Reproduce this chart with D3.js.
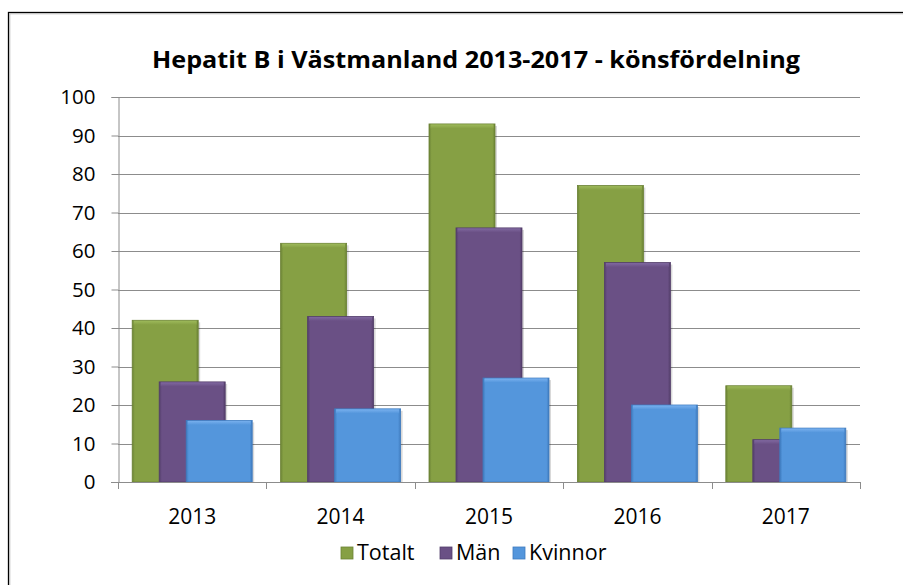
<!DOCTYPE html>
<html>
<head>
<meta charset="utf-8">
<script src="https://cdn.jsdelivr.net/npm/d3@7"></script>
<style>
  body { margin: 0; background: #fff; overflow: hidden; }
  svg { display: block; font-family: "Open Sans", "Liberation Sans", sans-serif; }
</style>
</head>
<body>
<svg id="chart" width="903" height="585"></svg>
<script>
// data
const years = ['2013', '2014', '2015', '2016', '2017'];
const seriesNames = ['Totalt', 'Män', 'Kvinnor'];
const totalt = [42, 62, 93, 77, 25];
const man = [26, 43, 66, 57, 11];
const kvinnor = [16, 19, 27, 20, 14];
const yTicks = [0, 10, 20, 30, 40, 50, 60, 70, 80, 90, 100];

const colors = {
  'Totalt': { fill: '#86A044', dark: '#6B8235', light: '#9DB95A' },
  'Män': { fill: '#6A5085', dark: '#533E6A', light: '#8068A0' },
  'Kvinnor': { fill: '#5496DC', dark: '#3F7BBE', light: '#78B0EE' }
};

const series = [totalt, man, kvinnor];
const fontSize = 20;

let svg = d3.select('#chart');
const margin = { left: 118, right: 43, top: 97, bottom: 103 };
const width = 903, height = 585;

// frame of the chart object (only top/left edges fall inside the picture)
svg.append('rect').attr('x', 8.5).attr('y', 12.5).attr('width', 1000).attr('height', 700)
  .attr('fill', 'none').attr('stroke', '#000').attr('stroke-width', 1.3);
svg.append('rect').attr('x', 9.8).attr('y', 13.8).attr('width', 1000).attr('height', 700)
  .attr('fill', 'none').attr('stroke', '#bbb').attr('stroke-width', 1);

let x = d3.scaleBand().domain(years).range([margin.left, width - margin.right]);
let y = d3.scaleLinear().domain([0, 100]).range([height - margin.bottom, margin.top]);

// gridlines
svg.append('g').selectAll('line').data(yTicks.filter(d => d > 0)).enter().append('line')
  .attr('x1', margin.left).attr('x2', width - margin.right)
  .attr('y1', d => Math.round(y(d)) + 0.5).attr('y2', d => Math.round(y(d)) + 0.5)
  .attr('stroke', '#8c8c8c').attr('stroke-width', 1);

// bars: each series is shifted right, overlapping like the original
const barW = 66;
const shift = 27;
const defs = svg.append('defs');
seriesNames.forEach((name, s) => {
  const c = colors[name];
  const g = defs.append('linearGradient').attr('id', 'grad' + s).attr('x1', 0).attr('x2', 1).attr('y1', 0).attr('y2', 0);
  g.append('stop').attr('offset', '0%').attr('stop-color', c.dark);
  g.append('stop').attr('offset', '4%').attr('stop-color', c.fill);
  g.append('stop').attr('offset', '96%').attr('stop-color', c.fill);
  g.append('stop').attr('offset', '100%').attr('stop-color', c.dark);
  const t = defs.append('linearGradient').attr('id', 'top' + s).attr('x1', 0).attr('x2', 0).attr('y1', 0).attr('y2', 1);
  t.append('stop').attr('offset', '0%').attr('stop-color', c.light);
  t.append('stop').attr('offset', '100%').attr('stop-color', c.fill);
});

seriesNames.forEach((name, s) => {
  const c = colors[name];
  const grp = svg.append('g');
  const bars = grp.selectAll('g').data(years).enter().append('g');
  const bx = d => x(d) + x.bandwidth() / 2 - (barW + 2 * shift) / 2 + s * shift;
  const by = (d, i) => y(series[s][i]);
  const bh = (d, i) => y(0) - y(series[s][i]);
  // soft shadow
  bars.append('rect')
    .attr('x', d => bx(d) + 2).attr('y', (d, i) => by(d, i) + 2)
    .attr('width', barW).attr('height', (d, i) => bh(d, i) - 2)
    .attr('fill', 'rgba(0,0,0,0.15)');
  bars.append('rect')
    .attr('x', bx).attr('y', by)
    .attr('width', barW).attr('height', bh)
    .attr('fill', `url(#grad${s})`).attr('stroke', c.dark).attr('stroke-width', 0.8);
  // light bevel at the top
  bars.append('rect')
    .attr('x', d => bx(d) + 1.5).attr('y', (d, i) => by(d, i) + 0.5)
    .attr('width', barW - 3).attr('height', 4)
    .attr('fill', `url(#top${s})`);
});

// y axis
let yAxis = d3.axisLeft(y).tickValues(yTicks).tickSize(7).tickPadding(16);
let ya = svg.append('g').attr('transform', `translate(${margin.left + 0.5},0)`).call(yAxis);
ya.select('.domain').attr('stroke', '#8c8c8c');
ya.selectAll('.tick line').attr('stroke', '#8c8c8c');
ya.selectAll('.tick text').attr('font-size', fontSize + 0.5).attr('fill', '#000')
  .attr('font-family', '"Open Sans", sans-serif');

// x axis, tick marks at the category boundaries
svg.append('line').attr('x1', margin.left - 7).attr('x2', width - margin.right)
  .attr('y1', Math.round(y(0)) + 0.5).attr('y2', Math.round(y(0)) + 0.5).attr('stroke', '#8c8c8c');
const bounds = years.map(d => x(d)).concat([width - margin.right]);
svg.append('g').selectAll('line').data(bounds).enter().append('line')
  .attr('x1', d => Math.round(d) + 0.5).attr('x2', d => Math.round(d) + 0.5)
  .attr('y1', y(0)).attr('y2', y(0) + 7).attr('stroke', '#8c8c8c');
svg.append('g').selectAll('text').data(years).enter().append('text')
  .attr('x', d => x(d) + x.bandwidth() / 2).attr('y', y(0) + 42)
  .attr('text-anchor', 'middle').attr('font-size', fontSize + 1).text(d => d);

// title
svg.append('text').attr('x', 476).attr('y', 68).attr('text-anchor', 'middle')
  .attr('font-size', 23).attr('font-weight', 'bold')
  .attr('textLength', 648).attr('lengthAdjust', 'spacingAndGlyphs')
  .text('Hepatit B i Västmanland 2013-2017 - könsfördelning');

// legend
const legendX = [341, 440, 513];
const leg = svg.append('g').selectAll('g').data(seriesNames).enter().append('g')
  .attr('transform', (d, i) => `translate(${legendX[i]},547)`);
leg.append('rect').attr('width', 12).attr('height', 12)
  .attr('fill', d => colors[d].fill).attr('stroke', d => colors[d].dark).attr('stroke-width', 0.8);
leg.append('text').attr('x', 16).attr('y', 13).attr('font-size', fontSize + 1.5).text(d => d);
</script>
</body>
</html>
